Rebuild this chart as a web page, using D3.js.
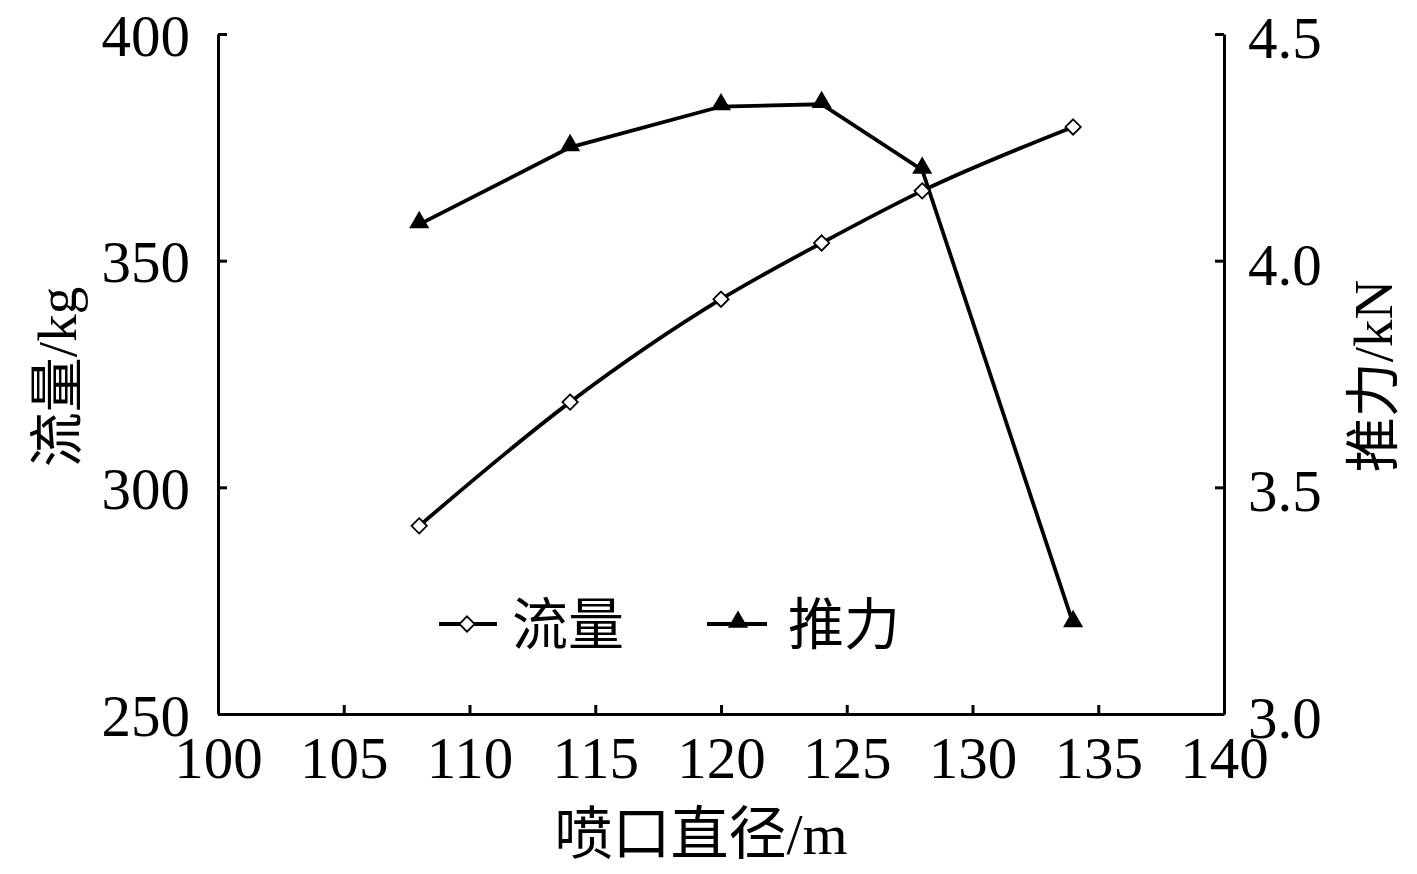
<!DOCTYPE html>
<html>
<head>
<meta charset="utf-8">
<script src="https://cdn.jsdelivr.net/npm/d3@7"></script>
<style>
  body { margin:0; background:#fff; }
  text { font-family: "Liberation Serif", "Noto Sans CJK SC", serif; fill:#000; }
</style>
</head>
<body>
<svg id="chart"></svg>
<script>
// data
var diameters = [108, 114, 120, 124, 128, 134];
var flowValues = [291.5, 318.8, 341.5, 353.9, 365.4, 379.5];
var thrustValues = [4.08, 4.25, 4.34, 4.345, 4.20, 3.20];
var xTicks = [100, 105, 110, 115, 120, 125, 130, 135, 140];
var leftTicks = [250, 300, 350, 400];
var rightTicks = [3.0, 3.5, 4.0, 4.5];

var screen = {width:1417, height:874};
var margins = {top:34, left:218, right:193, bottom:160};
var graph = {
    width: screen.width - margins.left - margins.right,
    height: screen.height - margins.top - margins.bottom
};

var svg = d3.select("#chart")
    .attr("width", screen.width)
    .attr("height", screen.height);

var g = svg.append("g")
    .attr("transform", "translate(" + margins.left + "," + margins.top + ")");

var xScale = d3.scaleLinear().domain([100, 140]).range([0, graph.width]);
var yLeft = d3.scaleLinear().domain([250, 400]).range([graph.height, 0]);
var yRight = d3.scaleLinear().domain([3.0, 4.5]).range([graph.height, 0]);

var fontSize = 59;

// axes, ticks pointing inward
var xAxis = d3.axisBottom(xScale).tickValues(xTicks).tickSize(-9).tickSizeOuter(0)
    .tickFormat(d3.format("d")).tickPadding(22);
var lAxis = d3.axisLeft(yLeft).tickValues(leftTicks).tickSize(-9).tickSizeOuter(0)
    .tickFormat(d3.format("d")).tickPadding(28);
var rAxis = d3.axisRight(yRight).tickValues(rightTicks).tickSize(-9).tickSizeOuter(0)
    .tickFormat(d3.format(".1f")).tickPadding(24);

function styleAxis(sel) {
    sel.select(".domain").attr("stroke", "#000").attr("stroke-width", 3);
    sel.selectAll(".tick line").attr("stroke", "#000").attr("stroke-width", 3);
    sel.selectAll(".tick text")
        .style("font-family", "'Liberation Serif', serif")
        .style("font-size", fontSize + "px")
        .attr("fill", "#000");
}

g.append("g").attr("transform", "translate(0," + graph.height + ")")
    .call(xAxis).call(styleAxis)
    .selectAll(".tick text").attr("dy", "0.71em");
g.append("g").call(lAxis).call(styleAxis)
    .selectAll(".tick text").attr("dy", "0.36em");
g.append("g").attr("transform", "translate(" + graph.width + ",0)")
    .call(rAxis).call(styleAxis)
    .selectAll(".tick text").attr("dy", "0.40em");

// flow line (smoothed)
var flowLine = d3.line()
    .x(function(d, i) { return xScale(diameters[i]); })
    .y(function(d) { return yLeft(d); })
    .curve(d3.curveMonotoneX);

g.append("path").datum(flowValues)
    .attr("d", flowLine)
    .attr("fill", "none").attr("stroke", "#000").attr("stroke-width", 3.8);

// thrust line (straight)
var thrustLine = d3.line()
    .x(function(d, i) { return xScale(diameters[i]); })
    .y(function(d) { return yRight(d); });

g.append("path").datum(thrustValues)
    .attr("d", thrustLine)
    .attr("fill", "none").attr("stroke", "#000").attr("stroke-width", 3.8);

var diamond = d3.symbol().type(d3.symbolDiamond2).size(150);
var triangle = d3.symbol().type(d3.symbolTriangle2).size(290);

g.selectAll(".flowpt").data(flowValues).enter()
    .append("path")
    .attr("transform", function(d, i) { return "translate(" + xScale(diameters[i]) + "," + yLeft(d) + ")"; })
    .attr("d", diamond)
    .attr("fill", "#fff").attr("stroke", "#000").attr("stroke-width", 1.8);

g.selectAll(".thrustpt").data(thrustValues).enter()
    .append("path")
    .attr("transform", function(d, i) { return "translate(" + xScale(diameters[i]) + "," + (yRight(d) - 2) + ")"; })
    .attr("d", triangle)
    .attr("fill", "#000");

// legend
var legend = svg.append("g");
var ly = 624;
legend.append("line").attr("x1", 439).attr("x2", 497).attr("y1", ly).attr("y2", ly)
    .attr("stroke", "#000").attr("stroke-width", 3.8);
legend.append("path").attr("transform", "translate(467," + ly + ")").attr("d", diamond)
    .attr("fill", "#fff").attr("stroke", "#000").attr("stroke-width", 1.8);
legend.append("text").attr("x", 512).attr("y", ly).attr("dy", "0.36em")
    .style("font-size", "56px").text("流量");

legend.append("line").attr("x1", 707).attr("x2", 767).attr("y1", ly).attr("y2", ly)
    .attr("stroke", "#000").attr("stroke-width", 3.8);
legend.append("path").attr("transform", "translate(738," + (ly - 2) + ")").attr("d", triangle)
    .attr("fill", "#000");
legend.append("text").attr("x", 788).attr("y", ly).attr("dy", "0.36em")
    .style("font-size", "56px").text("推力");

// axis titles
svg.append("text")
    .attr("transform", "translate(56,377) rotate(-90)")
    .attr("text-anchor", "middle").attr("dy", "0.36em")
    .style("font-size", "55px").text("流量/kg");

svg.append("text")
    .attr("transform", "translate(1372,376) rotate(-90)")
    .attr("text-anchor", "middle").attr("dy", "0.36em")
    .style("font-size", "55px").text("推力/kN");

svg.append("text")
    .attr("x", 701).attr("y", 833)
    .attr("text-anchor", "middle").attr("dy", "0.36em")
    .style("font-size", "58px").text("喷口直径/m");
</script>
</body>
</html>
